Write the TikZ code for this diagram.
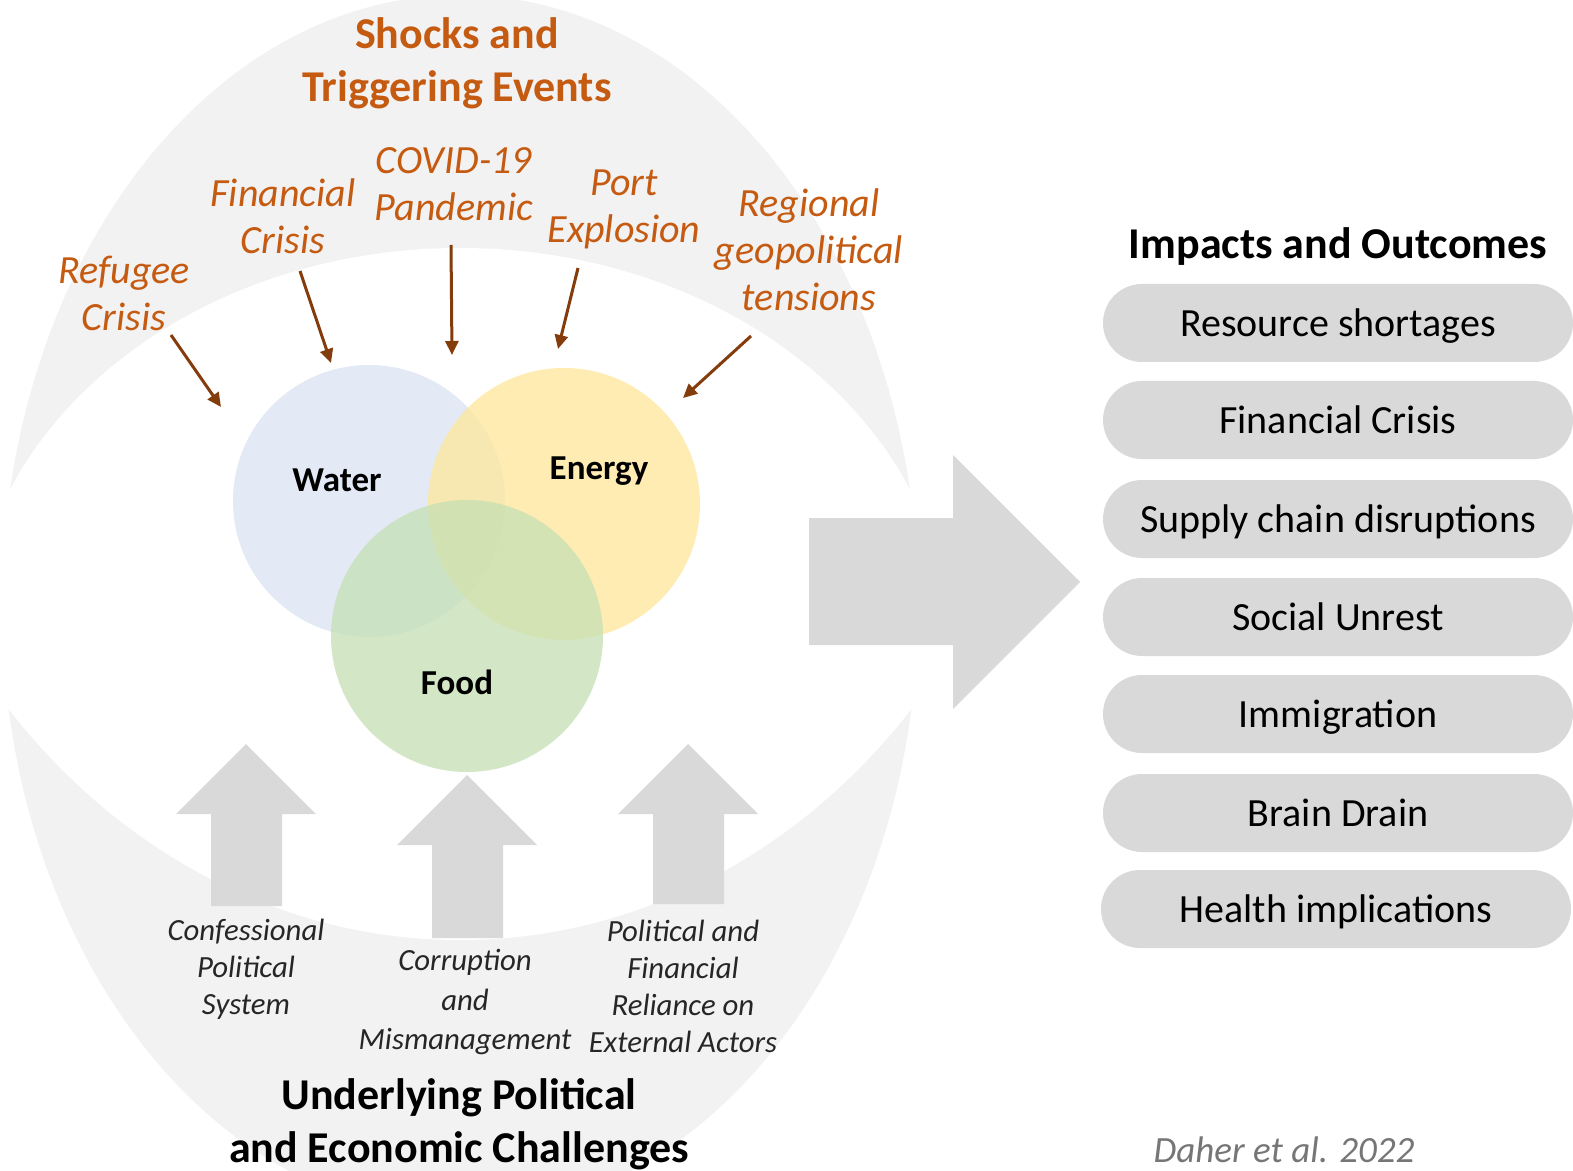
\documentclass[tikz,border=0pt]{standalone}
\usepackage{fontspec}
\setmainfont{Carlito}
\usetikzlibrary{arrows.meta}

\definecolor{shockorange}{RGB}{197,90,17}
\definecolor{shockbrown}{RGB}{132,60,12}
\definecolor{bandgrey}{RGB}{242,242,242}
\definecolor{blockgrey}{RGB}{217,217,217}
\definecolor{watercol}{RGB}{218,227,243}
\definecolor{energycol}{RGB}{255,230,153}
\definecolor{foodcol}{RGB}{197,224,180}
\definecolor{causegrey}{RGB}{38,38,38}
\definecolor{citegrey}{RGB}{118,118,118}

\begin{document}
\begin{tikzpicture}[x=0.5pt,y=-0.5pt,
  title/.style={font=\fontsize{22}{26.5}\selectfont\bfseries,align=center},
  shocklabel/.style={text=shockorange,font=\fontsize{20}{23.5}\selectfont\itshape,align=center},
  shock/.style={-{Triangle[length=7pt,width=6.5pt]},line width=1.5pt,draw=shockbrown},
  cause/.style={text=causegrey,font=\fontsize{15.4}{18.5}\selectfont\itshape,align=center},
  nexus/.style={circle,minimum size=136pt,inner sep=0pt,fill opacity=0.75},
  nexuslabel/.style={font=\fontsize{17.5}{20}\selectfont\bfseries},
  impact/.style={fill=blockgrey,rounded corners=19.5pt,minimum width=235pt,minimum height=39pt,
    text height=13.5pt,text depth=0pt,font=\fontsize{20}{23}\selectfont}]
\useasboundingbox (0,0) rectangle (1573,1171);
% \draw[help lines,step=100] (0,0) grid (1573,1171);

% grey bands (shocks on top, challenges below)
\fill[bandgrey] (460,605) ellipse [x radius=458,y radius=610];
\begin{scope}
  \clip (-30,648) arc[start angle=180,end angle=360,x radius=490,y radius=400]
    -- (950,1300) -- (-30,1300) -- cycle;
  \fill[white] (-140,263) arc[start angle=180,end angle=0,x radius=600,y radius=677]
    -- (1060,-100) -- (-140,-100) -- cycle;
\end{scope}

% nexus circles
\node (water) [nexus,fill=watercol] at (369,501) {};
\node (energy) [nexus,fill=energycol] at (564,504) {};
\node (food) [nexus,fill=foodcol] at (467,636) {};
\node (lwater) [nexuslabel] at (337,480) {Water};
\node (lenergy) [nexuslabel] at (599,471) {Energy};
\node (lfood) [nexuslabel] at (457,682) {Food};

% shocks
\node (shocks) [title,text=shockorange] at (457,63) {Shocks and\\Triggering Events};
\node (refugee) [shocklabel] at (124,293) {Refugee\\Crisis};
\node (financial) [shocklabel] at (283,216) {Financial\\Crisis};
\node (covid) [shocklabel] at (454,184) {COVID-19\\Pandemic};
\node (port) [shocklabel] at (624,209) {Port\\Explosion};
\node (regional) [shocklabel] at (809,250) {Regional\\geopolitical\\tensions};
%
\coordinate (refugee-from) at (171,335);
\coordinate (refugee-to) at (221,407);
\coordinate (financial-from) at (300,271);
\coordinate (financial-to) at (331,363);
\coordinate (covid-from) at (451,245);
\coordinate (covid-to) at (452,355);
\coordinate (port-from) at (578,268);
\coordinate (port-to) at (558,349);
\coordinate (regional-from) at (751,336);
\coordinate (regional-to) at (683,398);
\draw[shock] (refugee-from) -- (refugee-to);
\draw[shock] (financial-from) -- (financial-to);
\draw[shock] (covid-from) -- (covid-to);
\draw[shock] (port-from) -- (port-to);
\draw[shock] (regional-from) -- (regional-to);

% underlying challenges
\fill[blockgrey] (246,744) -- ++(70,70) -- ++(-34,0) -- ++(0,92) -- ++(-71,0) -- ++(0,-92) -- ++(-35,0) -- cycle;
\fill[blockgrey] (467,775) -- ++(70,70) -- ++(-34,0) -- ++(0,93) -- ++(-71,0) -- ++(0,-93) -- ++(-35,0) -- cycle;
\fill[blockgrey] (688,744) -- ++(70,70) -- ++(-34,0) -- ++(0,90) -- ++(-71,0) -- ++(0,-90) -- ++(-35,0) -- cycle;
\node (confessional) [cause] at (246,969) {Confessional\\Political\\System};
\node (corruption) [cause,font=\fontsize{15.4}{19.75}\selectfont\itshape] at (465,1002) {Corruption\\and\\Mismanagement};
\node (reliance) [cause] at (683,986) {Political and\\Financial\\Reliance on\\External Actors};
\node (challenges) [title,inner sep=0pt] at (459,1124) {Underlying Political\\and Economic Challenges};

% towards the outcomes
\fill[blockgrey] (809,518) -- (953,518) -- (953,455) -- (1080,582) -- (953,709) -- (953,645) -- (809,645) -- cycle;

% impacts and outcomes
\node (impacts) [title] at (1338,247) {Impacts and Outcomes};
\node (i1) [impact] at (1338,323) {Resource shortages};
\node (i2) [impact] at (1338,420) {Financial Crisis};
\node (i3) [impact] at (1338,519) {Supply chain disruptions};
\node (i4) [impact] at (1338,617) {Social Unrest};
\node (i5) [impact] at (1338,714) {Immigration};
\node (i6) [impact] at (1338,813) {Brain Drain};
\node (i7) [impact] at (1336,909) {Health implications};

\node (cite) [text=citegrey,inner sep=0pt,font=\fontsize{18.5}{22}\selectfont\itshape] at (1284,1150) {Daher et al. 2022};
\end{tikzpicture}
\end{document}
